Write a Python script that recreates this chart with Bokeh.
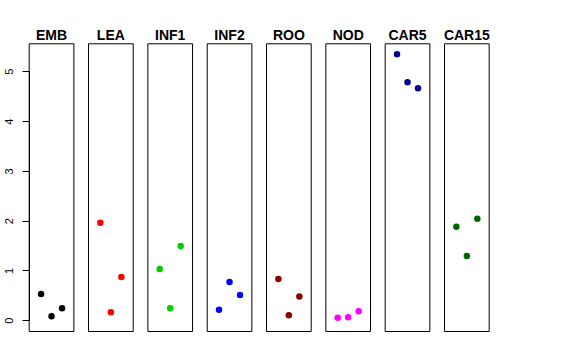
from bokeh.plotting import figure
from bokeh.models import Range1d, LinearAxis, FixedTicker
from bokeh.core.properties import value
from bokeh.embed import file_html
from bokeh.resources import INLINE

# ---- data ----
categories = ["EMB", "LEA", "INF1", "INF2", "ROO", "NOD", "CAR5", "CAR15"]
colors = ["black", "red", "#00CD00", "blue", "#8B0000", "magenta", "#00008B", "#006400"]
jitter = [-1, 0, 1]  # left / centre / right position of the replicates
emb = [0.54, 0.09, 0.25]
lea = [1.97, 0.17, 0.88]
inf1 = [1.04, 0.25, 1.50]
inf2 = [0.22, 0.78, 0.52]
roo = [0.84, 0.11, 0.49]
nod = [0.06, 0.07, 0.19]
car5 = [5.35, 4.79, 4.67]
car15 = [1.89, 1.30, 2.05]
series = [emb, lea, inf1, inf2, roo, nod, car5, car15]
y_ticks = [0, 1, 2, 3, 4, 5]

# ---- layout constants ----
W, H = 576, 360
px_x = 59.33          # pixels per panel
half_w = 0.3765       # half panel width in panel units
jit = 0.177           # jitter spacing in panel units
px_y = 49.8           # pixels per y unit
panel_bottom = -0.215
panel_top = 5.562
frame_left_px = 28.7  # from figure left to first panel left
x0 = -half_w - frame_left_px / px_x
x1 = x0 + W / px_x
y_bottom_px = 331     # panel bottom from figure top
y1 = panel_bottom + y_bottom_px / px_y
y0 = panel_bottom - (H - y_bottom_px) / px_y

p = figure(width=W, height=H, output_backend="svg", toolbar_location=None,
           x_range=Range1d(x0, x1), y_range=Range1d(y0, y1),
           x_axis_location=None, y_axis_location=None,
           min_border_left=0, min_border_right=0, min_border_top=0, min_border_bottom=0)
p.outline_line_color = None
p.xgrid.visible = False
p.ygrid.visible = False
p.background_fill_color = "white"
p.border_fill_color = "white"

idx = list(range(len(categories)))

# panel boxes
p.quad(left=[i - half_w for i in idx], right=[i + half_w for i in idx],
       bottom=panel_bottom, top=panel_top, fill_color=None,
       line_color="black", line_width=1)

# points
xs, ys, cs = [], [], []
for i, (vals, c) in enumerate(zip(series, colors)):
    for j, v in zip(jitter, vals):
        xs.append(i + j * jit)
        ys.append(v)
        cs.append(c)
p.scatter(x=xs, y=ys, size=6.5, fill_color=cs, line_color=cs, line_width=0)

# titles
p.text(x=idx, y=[panel_top + 9.3 / px_y] * len(idx), text=categories,
       text_align="center", text_baseline="alphabetic",
       text_font=value("Liberation Sans"), text_font_style="bold",
       text_font_size="14px", text_color="black")

# y axis on the first panel's left edge
ax = LinearAxis(fixed_location=-half_w, ticker=FixedTicker(ticks=y_ticks),
                bounds=(0, 5))
ax.major_tick_out = 7
ax.major_tick_in = 0
ax.minor_tick_out = 0
ax.minor_tick_in = 0
ax.major_label_standoff = 9
ax.major_label_orientation = "vertical"
ax.major_label_text_font = "Liberation Sans"
ax.major_label_text_font_size = "11px"
ax.major_label_text_color = "black"
ax.axis_line_color = "black"
ax.major_tick_line_color = "black"
ax.major_tick_line_width = 1
p.add_layout(ax, "left")

open("out.html", "w").write(file_html(p, INLINE))
